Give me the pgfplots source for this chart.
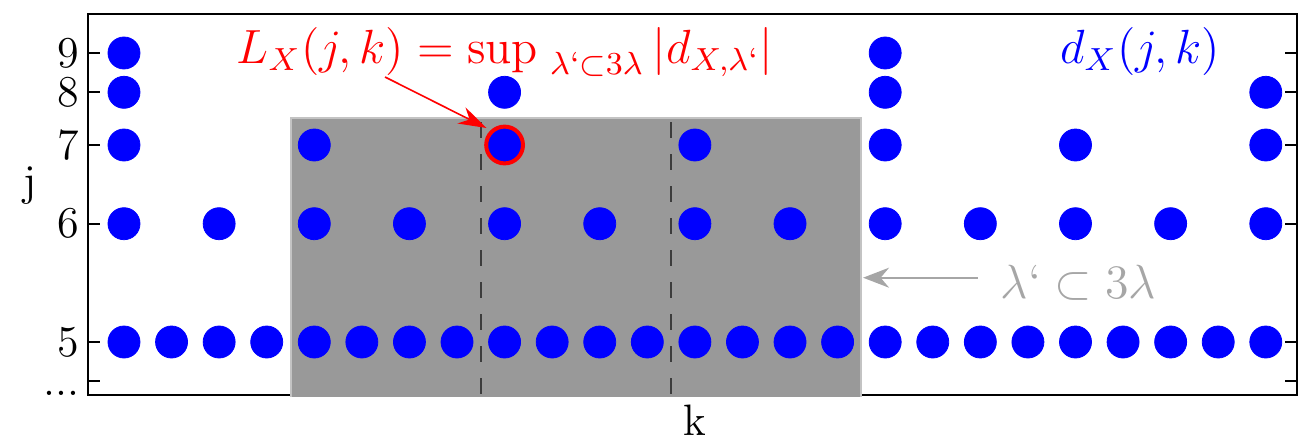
\documentclass[border=0pt]{standalone}
\usepackage{pgfplots}
\pgfplotsset{compat=1.18}
\usetikzlibrary{arrows.meta}
\definecolor{rectgray}{RGB}{153,153,153}
\definecolor{rectedge}{RGB}{195,195,195}
\definecolor{dashgray}{RGB}{60,60,60}
\definecolor{annogray}{RGB}{166,166,166}
\newcommand{\threedots}{\vphantom{9}{.}{.}{.}}
\begin{document}
\begin{tikzpicture}
\useasboundingbox (-22.075pt,-11.25pt) rectangle (303.175pt,98.75pt);
\begin{axis}[
  at={(0pt,0pt)}, anchor=south west,
  scale only axis, width=302.1pt, height=95.25pt,
  xmin=-0.75, xmax=24.65, ymin=0, ymax=381,
  xtick=\empty,
  ytick={14,53,171.3,250,302.7,342},
  yticklabels={\threedots,5,6,7,8,9},
  tick align=inside, major tick length=3pt,
  yticklabel style={font=\fontsize{11}{13}\selectfont, inner sep=0pt, xshift=-2pt},
  axis line style={line width=0.45pt},
  tick style={line width=0.45pt, black},
  clip=false,
]
% shaded region lambda' subset 3 lambda
\fill[rectgray] (axis cs:3.5,-1.5) rectangle (axis cs:15.5,277);
\draw[rectedge, line width=0.5pt] (axis cs:3.5,-1.5) -- (axis cs:3.5,277) -- (axis cs:15.5,277) -- (axis cs:15.5,-1.5);
\draw[dashgray, line width=0.5pt, dash pattern=on 4pt off 4pt, dash phase=7pt] (axis cs:7.5,277) -- (axis cs:7.5,0);
\draw[dashgray, line width=0.5pt, dash pattern=on 4pt off 4pt, dash phase=7pt] (axis cs:11.5,277) -- (axis cs:11.5,0);
% j = 5
\addplot[only marks, mark=*, mark size=4.0pt, mark options={fill=blue, draw=blue, line width=0.2pt}] coordinates {
(0,53) (1,53) (2,53) (3,53) (4,53) (5,53) (6,53) (7,53) (8,53) (9,53) (10,53) (11,53) (12,53)
(13,53) (14,53) (15,53) (16,53) (17,53) (18,53) (19,53) (20,53) (21,53) (22,53) (23,53) (24,53)};
% j = 6
\addplot[only marks, mark=*, mark size=4.0pt, mark options={fill=blue, draw=blue, line width=0.2pt}] coordinates {
(0,171.3) (2,171.3) (4,171.3) (6,171.3) (8,171.3) (10,171.3) (12,171.3) (14,171.3) (16,171.3)
(18,171.3) (20,171.3) (22,171.3) (24,171.3)};
% j = 7
\addplot[only marks, mark=*, mark size=4.0pt, mark options={fill=blue, draw=blue, line width=0.2pt}] coordinates {
(0,250) (4,250) (8,250) (12,250) (16,250) (20,250) (24,250)};
% j = 8
\addplot[only marks, mark=*, mark size=4.0pt, mark options={fill=blue, draw=blue, line width=0.2pt}] coordinates {
(0,302.7) (8,302.7) (16,302.7) (24,302.7)};
% j = 9
\addplot[only marks, mark=*, mark size=4.0pt, mark options={fill=blue, draw=blue, line width=0.2pt}] coordinates {
(0,342) (16,342)};
% highlighted coefficient
\addplot[only marks, mark=*, mark size=4.6pt, mark options={fill=blue, draw=red, line width=1pt}] coordinates {(8,250)};
% annotations
\draw[red, line width=0.4pt, -{Stealth[length=7pt, width=4.5pt]}] (axis cs:5.487,318) -- (axis cs:7.62,267);
\node[red, anchor=base west, inner sep=0pt, font=\fontsize{12}{14}\selectfont] at (axis cs:2.35,332)
  {$L_X(j,k) = \sup_{\hskip3pt\lambda`\subset 3\lambda}|d_{X,\lambda`}|$};
\node[blue, anchor=base west, inner sep=0pt, font=\fontsize{12}{14}\selectfont] at (axis cs:19.66,332) {$d_X(j,k)$};
\draw[annogray, line width=0.5pt, -{Stealth[length=6.5pt, width=5pt]}] (axis cs:17.95,117.3) -- (axis cs:15.535,117.3);
\node[annogray, anchor=base west, inner sep=0pt, font=\fontsize{12}{14}\selectfont] at (axis cs:18.41,97) {$\lambda`\subset 3\lambda$};
\end{axis}
\node[anchor=base, inner sep=0pt, font=\fontsize{11}{13}\selectfont] at (-14.6pt,49.9pt) {j};
\node[anchor=base, inner sep=0pt, font=\fontsize{11}{13}\selectfont] at (151.55pt,-10.1pt) {k};
\end{tikzpicture}
\end{document}
